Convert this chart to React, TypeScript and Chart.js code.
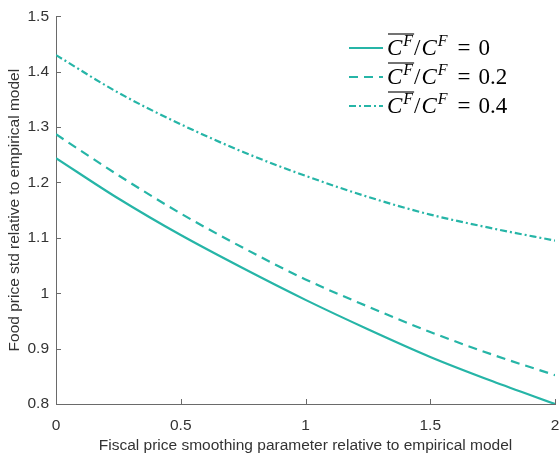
import { useEffect, useRef } from 'react';
import { Chart, registerables } from 'chart.js';

Chart.register(...registerables);

// Fiscal price smoothing parameter (relative to empirical model)
const smoothing = [0, 0.25, 0.5, 0.75, 1, 1.25, 1.5, 1.75, 2];
// Food price std relative to empirical model, one array per C^F-bar / C^F ratio
const ratio0 = [1.244, 1.171, 1.105, 1.045, 0.988, 0.935, 0.885, 0.841, 0.8];
const ratio02 = [1.287, 1.213, 1.144, 1.082, 1.025, 0.976, 0.93, 0.889, 0.852];
const ratio04 = [1.43, 1.362, 1.305, 1.255, 1.212, 1.174, 1.142, 1.117, 1.095];
const ratioLabels = ['0', '0.2', '0.4'];
const xTicks = [0, 0.5, 1, 1.5, 2];
const yTicks = [0.8, 0.9, 1, 1.1, 1.2, 1.3, 1.4, 1.5];

const TEAL = '#26b5a7';
const AXIS = '#6a6a6a';
const TEXT = '#333333';
const SANS = '"Liberation Sans", Arial, sans-serif';
const SERIF = '"Liberation Serif", "Times New Roman", serif';

const fmt = (v: number | string) => String(Math.round(Number(v) * 10) / 10);

// MATLAB-style tick marks pointing into the plot
const inwardTicks = {
    id: 'inwardTicks',
    afterDraw(chart: any) {
        const { ctx, chartArea, scales } = chart;
        ctx.save();
        ctx.strokeStyle = AXIS;
        ctx.lineWidth = 1;
        ctx.beginPath();
        scales.x.ticks.forEach((t: any) => {
            const px = Math.round(scales.x.getPixelForValue(t.value)) + 0.5;
            ctx.moveTo(px, chartArea.bottom);
            ctx.lineTo(px, chartArea.bottom - 5);
        });
        scales.y.ticks.forEach((t: any) => {
            const py = Math.round(scales.y.getPixelForValue(t.value)) + 0.5;
            ctx.moveTo(chartArea.left, py);
            ctx.lineTo(chartArea.left + 5, py);
        });
        ctx.stroke();
        ctx.restore();
    }
};

// legend with the overline / superscript notation
const texLegend = {
    id: 'texLegend',
    afterDraw(chart: any) {
        const { ctx } = chart;
        const ital = `italic 23px ${SERIF}`;
        const upright = `23px ${SERIF}`;
        const sup = `italic 16px ${SERIF}`;
        chart.data.datasets.forEach((ds: any, i: number) => {
            const y = 48 + i * 29;
            ctx.save();
            ctx.strokeStyle = ds.borderColor;
            ctx.lineWidth = ds.borderWidth;
            ctx.setLineDash(ds.borderDash || []);
            ctx.beginPath();
            ctx.moveTo(349, y);
            ctx.lineTo(383, y);
            ctx.stroke();
            ctx.setLineDash([]);

            const base = y + 7;
            let x = 387;
            ctx.fillStyle = '#000';
            ctx.textBaseline = 'alphabetic';
            ctx.textAlign = 'left';

            const cf = () => {
                ctx.font = ital;
                ctx.fillText('C', x, base);
                x += ctx.measureText('C').width + 1;
                ctx.font = sup;
                ctx.fillText('F', x, base - 9);
                x += ctx.measureText('F').width + 1;
            };

            const start = x;
            cf();
            ctx.strokeStyle = '#000';
            ctx.lineWidth = 1.1;
            ctx.beginPath();
            ctx.moveTo(start + 1, base - 21);
            ctx.lineTo(x, base - 21);
            ctx.stroke();

            ctx.font = upright;
            ctx.fillText('/', x, base);
            x += ctx.measureText('/').width + 1;
            cf();
            x += 9;
            ctx.font = upright;
            ctx.fillText('=', x, base);
            x += ctx.measureText('=').width + 8;
            ctx.fillText(ds.label, x, base);
            ctx.restore();
        });
    }
};

export default function App() {
    const chartRef = useRef<HTMLCanvasElement>(null);
    const chartInstance = useRef<Chart>();

    useEffect(() => {
        document.body.style.margin = '0';
        if (!chartRef.current) return;
        const ctx = chartRef.current.getContext('2d');
        if (!ctx) return;
        if (chartInstance.current) chartInstance.current.destroy();

        const series = [ratio0, ratio02, ratio04];
        const dashes = [[], [9, 6], [7, 3, 2, 3]];

        chartInstance.current = new Chart(ctx, {
            type: 'line',
            data: {
                datasets: series.map((vals, i) => ({
                    label: ratioLabels[i],
                    data: smoothing.map((s, j) => ({ x: s, y: vals[j] })),
                    borderColor: TEAL,
                    borderWidth: 2.2,
                    borderDash: dashes[i],
                    pointRadius: 0,
                    cubicInterpolationMode: 'monotone' as const,
                    fill: false
                }))
            },
            options: {
                animation: false,
                responsive: true,
                maintainAspectRatio: false,
                layout: { padding: { top: 12, right: 5, left: 0, bottom: 0 } },
                plugins: {
                    legend: { display: false },
                    tooltip: { enabled: false }
                },
                scales: {
                    x: {
                        type: 'linear',
                        min: 0,
                        max: 2,
                        afterBuildTicks: (scale: any) => {
                            scale.ticks = xTicks.map((v) => ({ value: v }));
                        },
                        afterFit: (scale: any) => {
                            scale.height = 56;
                            scale.paddingLeft = 0;
                            scale.paddingRight = 0;
                        },
                        grid: { display: false, drawTicks: false },
                        border: { display: true, color: AXIS, width: 1 },
                        ticks: {
                            color: TEXT,
                            font: { family: SANS, size: 15.5 },
                            padding: 12,
                            maxRotation: 0,
                            callback: (v: any) => fmt(v)
                        },
                        title: {
                            display: true,
                            text: 'Fiscal price smoothing parameter relative to empirical model',
                            color: TEXT,
                            font: { family: SANS, size: 15.5 },
                            padding: { top: 2, bottom: 5 }
                        }
                    },
                    y: {
                        type: 'linear',
                        min: 0.8,
                        max: 1.5,
                        afterBuildTicks: (scale: any) => {
                            scale.ticks = yTicks.map((v) => ({ value: v }));
                        },
                        afterFit: (scale: any) => {
                            scale.width = 56;
                        },
                        grid: { display: false, drawTicks: false },
                        border: { display: true, color: AXIS, width: 1 },
                        ticks: {
                            color: TEXT,
                            font: { family: SANS, size: 15.5 },
                            padding: 7,
                            callback: (v: any) => fmt(v)
                        },
                        title: {
                            display: true,
                            text: 'Food price std relative to empirical model',
                            color: TEXT,
                            font: { family: SANS, size: 15.5 },
                            padding: { top: 5, bottom: 0 }
                        }
                    }
                }
            },
            plugins: [inwardTicks, texLegend]
        });

        return () => {
            if (chartInstance.current) {
                chartInstance.current.destroy();
                chartInstance.current = undefined;
            }
        };
    }, []);

    return (
        <div style={{ width: 560, height: 460, position: 'relative', background: '#fff' }}>
            <canvas ref={chartRef}></canvas>
        </div>
    );
}
